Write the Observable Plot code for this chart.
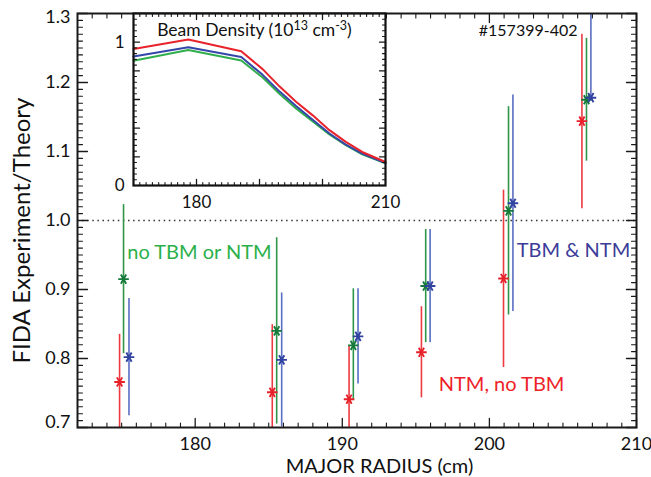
<!DOCTYPE html>
<html><head><meta charset="utf-8">
<script src="https://cdn.jsdelivr.net/npm/d3@7"></script>
<script src="https://cdn.jsdelivr.net/npm/@observablehq/plot@0.6"></script>
<style>
body{margin:0;background:#fff;}
#wrap{position:relative;width:651px;height:477px;overflow:hidden;}
#wrap svg{position:absolute;}
</style></head><body><div id="wrap"></div>
<script>
// ---------- data ----------
const seriesNames = ["NTM, no TBM", "no TBM or NTM", "TBM & NTM"];
// red: NTM, no TBM
const R_red  = [174.86, 185.24, 190.46, 195.38, 200.96, 206.29];
const V_red  = [0.766, 0.751, 0.741, 0.809, 0.916, 1.144];
const LO_red = [0.697, 0.653, 0.664, 0.743, 0.787, 1.017];
const HI_red = [0.835, 0.849, 0.818, 0.875, 1.044, 1.270];
// green: no TBM or NTM
const R_green  = [175.13, 185.54, 190.75, 195.67, 201.30, 206.60];
const V_green  = [0.915, 0.840, 0.819, 0.905, 1.014, 1.175];
const LO_green = [0.807, 0.705, 0.739, 0.823, 0.863, 1.086];
const HI_green = [1.023, 0.975, 0.901, 0.987, 1.165, 1.264];
// blue: TBM & NTM
const R_blue  = [175.50, 185.88, 191.07, 195.97, 201.60, 206.90];
const V_blue  = [0.802, 0.798, 0.832, 0.905, 1.025, 1.178];
const LO_blue = [0.717, 0.701, 0.763, 0.823, 0.868, 1.178];
const HI_blue = [0.887, 0.895, 0.901, 0.987, 1.182, 1.400];

const xTickLabels = [180, 190, 200, 210];
const yTickLabels = [0.7, 0.8, 0.9, 1.0, 1.1, 1.2, 1.3];
const shotLabel = "#157399-402";
const xTitle = "MAJOR RADIUS (cm)";
const yTitle = "FIDA Experiment/Theory";

// inset: beam density (10^13 cm^-3)
const beamR     = [170, 178.7, 187.1, 190.5, 193.2, 195.8, 198.4, 201.1, 203.7, 206.3, 210];
const beamRed   = [0.952, 1.018, 0.936, 0.812, 0.690, 0.585, 0.491, 0.386, 0.304, 0.234, 0.164];
const beamBlue  = [0.900, 0.964, 0.896, 0.772, 0.655, 0.554, 0.461, 0.363, 0.285, 0.222, 0.157];
const beamGreen = [0.870, 0.945, 0.872, 0.753, 0.639, 0.538, 0.449, 0.356, 0.281, 0.218, 0.155];
const insetXTickLabels = [180, 210];
const insetYTickLabels = [0, 1];
const insetTitleParts = ["Beam Density (10", "13", " cm", "-3", ")"];

// ---------- styles ----------
const FONT = "Lato, 'Noto Sans', sans-serif";
const series = [
  {name: seriesNames[0], R: R_red,   V: V_red,   LO: LO_red,   HI: HI_red,   bar: "#ec3a40", star: "#e8202a", text: "#ee2229"},
  {name: seriesNames[1], R: R_green, V: V_green, LO: LO_green, HI: HI_green, bar: "#2f9548", star: "#157a3a", text: "#2bb04b"},
  {name: seriesNames[2], R: R_blue,  V: V_blue,  LO: LO_blue,  HI: HI_blue,  bar: "#5a6ec2", star: "#3043a0", text: "#3c3c98"}
];
const rowsOf = s => s.R.map((r, i) => ({R: r, v: s.V[i], lo: s.LO[i], hi: s.HI[i]}));

const asterisk = {
  draw(ctx, size) {
    const r = Math.sqrt(size / Math.PI);
    const a = r * 0.5, b = r * 0.866;
    ctx.moveTo(-r, 0); ctx.lineTo(r, 0);
    ctx.moveTo(-a, -b); ctx.lineTo(a, b);
    ctx.moveTo(-a, b); ctx.lineTo(a, -b);
  }
};

function tickVectors(values, anchor, len, sw) {
  const rot = {bottom: 0, top: 180, left: 90, right: 270}[anchor];
  const horiz = anchor === "bottom" || anchor === "top";
  return Plot.vector(values, {
    [horiz ? "x" : "y"]: d => d,
    frameAnchor: anchor, length: len, rotate: rot, anchor: "start",
    r: 0, stroke: "#1a1a1a", strokeWidth: sw
  });
}

// ---------- main chart ----------
const xMinor = d3.range(173, 210).filter(d => d % 10 !== 0);
const yMinor = d3.range(71, 130).filter(d => d % 10 !== 0).map(d => d / 100);
const yMajor = yTickLabels;

const marks = [
  Plot.ruleY([1.0], {stroke: "#333", strokeDasharray: "1.5,3.6", strokeWidth: 1.4})
];
for (const s of series) {
  marks.push(Plot.ruleX(rowsOf(s), {x: "R", y1: "lo", y2: "hi", stroke: s.bar, strokeWidth: 1.6, clip: true}));
}
for (const s of series) {
  marks.push(Plot.dot(rowsOf(s), {x: "R", y: "v", symbol: asterisk, r: 5.3, stroke: s.star, strokeWidth: 1.9, fill: "none", clip: true}));
}
for (const a of ["bottom", "top"]) {
  marks.push(tickVectors(xTickLabels, a, 9, 1.3));
  marks.push(tickVectors(xMinor, a, 4.5, 1.1));
}
for (const a of ["left", "right"]) {
  marks.push(tickVectors(yMajor, a, 10, 1.3));
  marks.push(tickVectors(yMinor, a, 5, 1.1));
}
marks.push(Plot.frame({stroke: "#1a1a1a", strokeWidth: 2}));
marks.push(Plot.axisX(xTickLabels, {tickSize: 0, tickPadding: 10, fontSize: 18, label: null, tickFormat: d => String(d)}));
marks.push(Plot.axisY(yTickLabels.slice(1, -1), {tickSize: 0, tickPadding: 7, fontSize: 18, label: null, tickFormat: d3.format(".1f")}));
marks.push(Plot.axisY(yTickLabels.slice(-1), {tickSize: 0, tickPadding: 7, fontSize: 18, label: null, tickFormat: d3.format(".1f"), dy: 4}));
marks.push(Plot.axisY(yTickLabels.slice(0, 1), {tickSize: 0, tickPadding: 7, fontSize: 18, label: null, tickFormat: d3.format(".1f"), dy: -5}));
// axis titles
marks.push(Plot.text([yTitle], {text: d => d, frameAnchor: "left", rotate: -90, dx: -47.5, dy: 10, fontSize: 24, textAnchor: "middle", lineAnchor: "bottom", fill: "#111"}));
marks.push(Plot.text([xTitle], {text: d => d, frameAnchor: "bottom", dx: 22.5, dy: 45.5, fontSize: 20, textAnchor: "middle", lineAnchor: "bottom", fill: "#111"}));
// annotations
marks.push(Plot.text([shotLabel], {text: d => d, x: 205.99, y: 1.2676, textAnchor: "end", lineAnchor: "bottom", fontSize: 16, fill: "#111"}));
marks.push(Plot.text([series[1].name], {text: d => d, x: 175.38, y: 0.9435, textAnchor: "start", lineAnchor: "bottom", fontSize: 20, fill: series[1].text}));
marks.push(Plot.text([series[2].name], {text: d => d, x: 201.86, y: 0.9478, textAnchor: "start", lineAnchor: "bottom", fontSize: 20, fill: series[2].text}));
marks.push(Plot.text([series[0].name], {text: d => d, x: 196.56, y: 0.753, textAnchor: "start", lineAnchor: "bottom", fontSize: 20, fill: series[0].text}));

const main = Plot.plot({
  width: 651, height: 477,
  marginLeft: 77, marginRight: 15, marginTop: 13, marginBottom: 50,
  x: {domain: [172, 210]},
  y: {domain: [0.7, 1.3]},
  style: {fontFamily: FONT, background: "white", color: "#111"},
  marks
});
main.style.left = "0px"; main.style.top = "0px";
document.getElementById("wrap").appendChild(main);

// ---------- inset ----------
const beamRows = beamR.map((r, i) => ({R: r, red: beamRed[i], blue: beamBlue[i], green: beamGreen[i]}));
const ixMinor = d3.range(171, 210).filter(d => d % 10 !== 0);
const iyMajor = [0.2, 0.4, 0.6, 0.8, 1.0];
const iyMinor = d3.range(1, 30).filter(d => d % 5 !== 0).map(d => d * 0.04);
const imarks = [
  Plot.frame({fill: "white"}),
  Plot.line(beamRows, {x: "R", y: "green", stroke: "#2fae4b", strokeWidth: 2}),
  Plot.line(beamRows, {x: "R", y: "blue", stroke: "#3446a8", strokeWidth: 2}),
  Plot.line(beamRows, {x: "R", y: "red", stroke: "#e8232b", strokeWidth: 2})
];
for (const a of ["bottom", "top"]) {
  imarks.push(tickVectors([180, 190, 200], a, 6, 1.3));
  imarks.push(tickVectors(ixMinor, a, 3, 1.1));
}
for (const a of ["left", "right"]) {
  imarks.push(tickVectors(iyMajor, a, 6, 1.3));
  imarks.push(tickVectors(iyMinor, a, 3, 1.1));
}
imarks.push(Plot.frame({stroke: "#111", strokeWidth: 2.2}));
imarks.push(Plot.axisX(insetXTickLabels, {tickSize: 0, tickPadding: 10, fontSize: 17, label: null, tickFormat: d => String(d)}));
imarks.push(Plot.axisY(insetYTickLabels, {tickSize: 0, tickPadding: 9, fontSize: 17, label: null, tickFormat: d => String(d)}));
imarks.push(Plot.text([insetTitleParts.join("")], {text: d => d, x: 173.76, y: 1.04, textAnchor: "start", lineAnchor: "bottom", fontSize: 17.5, fill: "#111", className: "inset-title"}));

const inset = Plot.plot({
  width: 290, height: 201,
  marginLeft: 30, marginRight: 8, marginTop: 1, marginBottom: 28,
  x: {domain: [170, 210]},
  y: {domain: [0, 1.2]},
  style: {fontFamily: FONT, background: "transparent", color: "#111", overflow: "visible"},
  marks: imarks
});
inset.style.left = "103px"; inset.style.top = "12px";
document.getElementById("wrap").appendChild(inset);

// superscripts in the inset title
d3.select(inset).selectAll("text")
  .filter(function () { return this.textContent === insetTitleParts.join(""); })
  .each(function () {
    const t = d3.select(this);
    t.text(null);
    const [p0, s1, p2, s3, p4] = insetTitleParts;
    t.append("tspan").text(p0);
    t.append("tspan").attr("dy", -6).attr("font-size", 12.5).text(s1);
    t.append("tspan").attr("dy", 6).text(p2);
    t.append("tspan").attr("dy", -6).attr("font-size", 12.5).text(s3);
    t.append("tspan").attr("dy", 6).text(p4);
  });
</script>
</body></html>
